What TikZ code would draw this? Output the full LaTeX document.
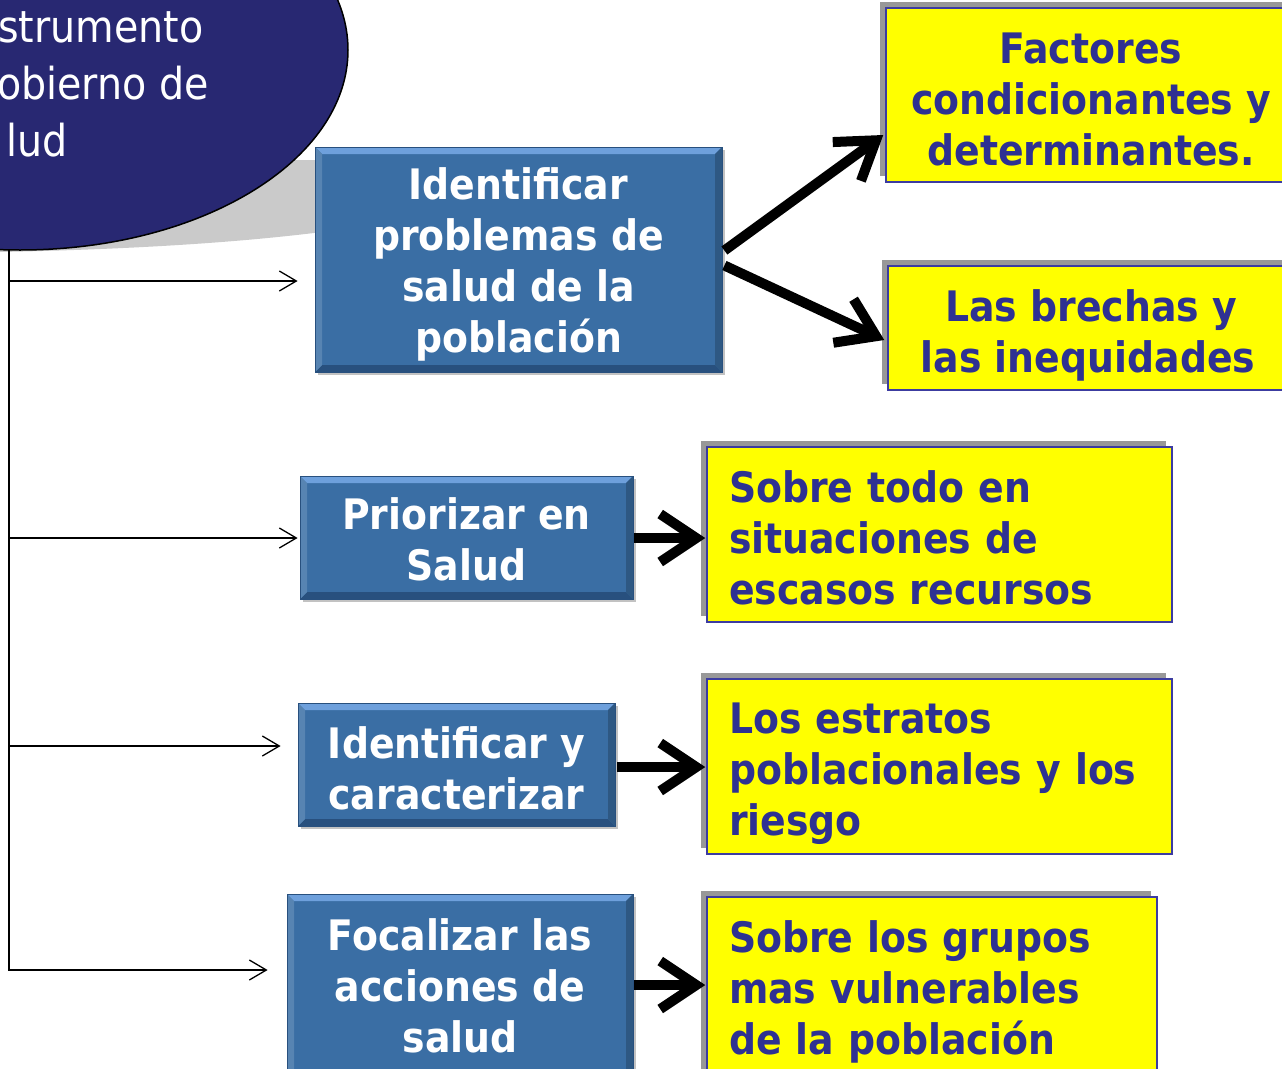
\documentclass[tikz,border=0pt]{standalone}
\usepackage{fontspec}
\usetikzlibrary{arrows.meta,shapes.geometric,shadows,calc}
\newfontfamily\sansc[FakeStretch=0.9]{DejaVu Sans}
\newcommand\lowr[1]{\rule{0pt}{\dimexpr32pt+#1pt+#1pt\relax}}
\definecolor{navy}{RGB}{40,40,114}
\definecolor{boxblue}{RGB}{58,110,164}
\definecolor{bluelight}{RGB}{110,160,220}
\definecolor{bluedark}{RGB}{40,80,126}
\definecolor{txtnavy}{RGB}{46,49,146}
\definecolor{yborder}{RGB}{60,60,160}
\definecolor{yshadow}{RGB}{152,152,152}
\definecolor{ellshadow}{RGB}{202,202,202}
\definecolor{ylw}{RGB}{255,255,0}
\begin{document}
\begin{tikzpicture}[x=1pt,y=-1pt,
  bluebox/.style={draw=bluedark, line width=0.8pt, fill=boxblue, text=white,
    font=\sansc\bfseries\fontsize{42}{51}\selectfont, align=center, inner sep=0pt,
    drop shadow={shadow xshift=3pt, shadow yshift=-3pt, fill=black!40, opacity=0.6},
    path picture={
      \fill[bluelight] (path picture bounding box.north west) -- (path picture bounding box.north east)
        -- ([shift={(-7,7)}]path picture bounding box.north east) -- ([shift={(7,7)}]path picture bounding box.north west) -- cycle;
      \fill[bluedark] (path picture bounding box.south west) -- (path picture bounding box.south east)
        -- ([shift={(-7,-7)}]path picture bounding box.south east) -- ([shift={(7,-7)}]path picture bounding box.south west) -- cycle;
      \fill[boxblue!85!white] (path picture bounding box.north west) -- ([shift={(7,7)}]path picture bounding box.north west)
        -- ([shift={(7,-7)}]path picture bounding box.south west) -- (path picture bounding box.south west) -- cycle;
      \fill[boxblue!80!black] (path picture bounding box.north east) -- ([shift={(-7,7)}]path picture bounding box.north east)
        -- ([shift={(-7,-7)}]path picture bounding box.south east) -- (path picture bounding box.south east) -- cycle;
    }},
  yellowbox/.style={draw=yborder, line width=1.5pt, fill=ylw, text=txtnavy,
    font=\sansc\bfseries\fontsize{42}{51}\selectfont, inner sep=0pt,
    drop shadow={shadow xshift=-6pt, shadow yshift=6pt, fill=yshadow, opacity=1}},
  elltext/.style={text=white, font=\sansc\fontsize{44}{57}\selectfont, inner sep=0pt, anchor=base west},
  thin/.style={line width=1.3pt, -{Straight Barb[length=17pt,width=20pt]}},
  thick/.style={line width=10pt, -{Straight Barb[length=36pt,width=48pt]}},
  ]
\useasboundingbox (0,0) rectangle (1282,1068);
\clip (0,0) rectangle (1282,1068);

% shadow of the ellipse
\fill[ellshadow] (0,252) .. controls (150,249) and (250,241) .. (322,232) -- (322,160) -- (280,160) -- (100,100) -- (0,100) -- cycle;

% vertical line
\coordinate (vtop) at (9,240);
\coordinate (vbot) at (9,970.5);
\draw[line width=1.3pt] (vtop) -- (vbot);

% ellipse
\node[ellipse, draw=black, line width=1.5pt, fill=navy, minimum width=656pt, minimum height=400pt, inner sep=0pt] (ell) at (20,50) {};
\node[elltext] (e1) at (-2,42) {strumento};
\node[elltext] (e2) at (-3,99) {obierno de};
\node[elltext] (e3) at (6,156) {lud};

% blue boxes
\node[bluebox, minimum width=407pt, minimum height=225pt] (b1) at (518.5,259.5) {\lowr{5}Identificar\\problemas de\\salud de la\\población};
\node[bluebox, minimum width=333pt, minimum height=123pt] (b2) at (466.5,537.5) {\lowr{2}Priorizar en\\Salud};
\node[bluebox, minimum width=317pt, minimum height=123pt] (b3) at (456.5,764.5) {\lowr{4}Identificar y\\caracterizar};
\node[bluebox, minimum width=346pt, minimum height=184pt] (b4) at (460,986) {Focalizar las\\acciones de\\salud};

% yellow boxes
\node[yellowbox, align=center, minimum width=410pt, minimum height=174pt] (yA) at (1091,95) {\lowr{4}Factores\\condicionantes y\\determinantes.};
\node[yellowbox, align=center, minimum width=400pt, minimum height=124pt] (yB) at (1088,328) {\lowr{7}\hspace*{6pt}Las brechas y\\las inequidades};
\node[yellowbox, align=left, text width=421pt, minimum width=465pt, minimum height=175pt] (yC) at (939.5,534.5) {\lowr{3}Sobre todo en\\situaciones de\\escasos recursos};
\node[yellowbox, align=left, text width=421pt, minimum width=465pt, minimum height=175pt] (yD) at (939.5,766.5) {\lowr{7}Los estratos\\poblacionales y los\\riesgo};
\node[yellowbox, align=left, text width=406pt, minimum width=450pt, minimum height=183pt] (yE) at (932,988.5) {\lowr{3}Sobre los grupos\\mas vulnerables\\de la población};

% thin arrows from the vertical line
\coordinate (t1) at (9,281);
\coordinate (t2) at (9,538);
\coordinate (t3) at (9,746);
\coordinate (t4) at (9,970);
\draw[thin] (t1) -- ($(b1.west)+(-17,21.5)$);
\draw[thin] (t2) -- ($(b2.west)+(-2,0.5)$);
\draw[thin] (t3) -- ($(b3.west)+(-17,-18.5)$);
\draw[thin] (t4) -- ($(b4.west)+(-19,-16)$);

% thick arrows
\draw[thick] ($(b1.east)+(2,-9)$) -- ($(yA.west)+(-2,40)$);
\draw[thick] ($(b1.east)+(2,6)$) -- ($(yB.west)+(-3,12)$);
\draw[thick] ($(b2.east)+(1,0.5)$) -- ($(yC.west)+(-1,3.5)$);
\draw[thick] ($(b3.east)+(2,2.5)$) -- ($(yD.west)+(-1,0.5)$);
\draw[thick] ($(b4.east)+(1,-1)$) -- ($(yE.west)+(-1,-3.5)$);
\end{tikzpicture}
\end{document}
